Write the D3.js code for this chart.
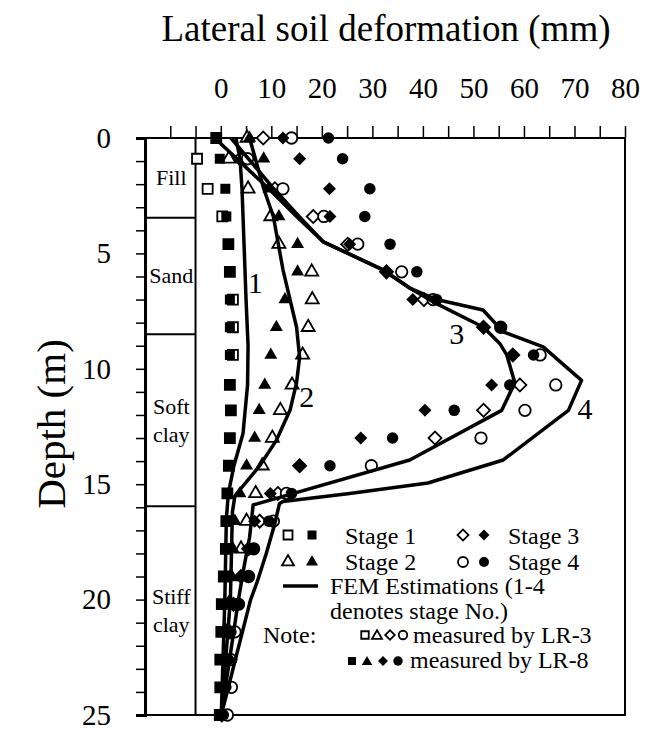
<!DOCTYPE html>
<html><head><meta charset="utf-8">
<script src="https://cdn.jsdelivr.net/npm/d3@7"></script>
<style>
body{margin:0;background:#fff}
text{font-family:"Liberation Serif","Times New Roman",Times,serif;fill:#000}
</style>
</head><body>
<svg id="c" width="645" height="730"></svg>
<script>
// ---------------- DATA ----------------
const depths = [0,0.9,2.2,3.4,4.6,5.8,7.0,8.2,9.4,10.7,11.8,13.0,14.2,15.4,16.6,17.8,19.0,20.2,21.4,22.6,23.8,25.0];

const stage1LR3 = [-0.9,-4.7,-2.6,0.3,1.5,1.8,2.4,2.4,2.4,1.8,2.0,1.8,1.6,1.3,1.1,1.0,0.6,0.2,0.1,-0.1,-0.1,-0.2];
const stage1LR8 = [-0.9,-0.2,0.9,1.1,1.5,1.8,1.8,1.8,1.8,1.8,2.0,1.8,1.6,1.3,1.1,1.0,0.6,0.2,0.1,-0.1,-0.1,-0.2];
const stage2LR3 = [5.2,1.6,5.4,9.9,11.5,18.0,18.1,17.3,16.2,14.1,11.8,10.2,8.2,6.9,5.1,4.0,2.0,1.5,1.0,0.7,0.4,0.2];
const stage2LR8 = [5.7,8.5,9.5,11.5,15.2,15.2,12.7,11.0,9.9,8.7,7.6,6.7,5.1,3.8,2.8,2.4,2.0,1.5,1.0,0.7,0.4,0.2];
const stage3LR3 = [8.4,3.8,10.7,18.3,25.1,32.8,40.2,52.0,57.8,59.2,52.0,42.4,15.6,11.3,7.7,5.5,4.0,2.5,1.8,1.0,0.5,0.2];
const stage3LR8 = [12.3,15.6,21.5,21.6,25.5,32.8,38.0,52.0,57.8,53.6,40.4,27.7,15.6,9.8,6.7,5.5,4.0,2.5,1.8,1.0,0.5,0.2];
const stage4LR3 = [14.0,5.3,12.3,20.4,27.1,35.8,42.0,55.4,63.2,66.3,60.2,51.5,29.8,13.0,10.4,6.5,5.5,3.5,2.8,2.0,2.1,1.3];
const stage4LR8 = [21.3,24.1,29.5,28.5,33.5,38.8,42.7,55.4,61.9,57.2,46.2,34.0,21.6,14.0,9.5,6.5,5.5,3.5,2.0,1.5,1.0,0.5];

// FEM estimations: [depth (m), deformation (mm)]
const fem1 = [[0,3.0],[0.9,3.8],[2.2,4.2],[4.6,4.6],[7.0,5.0],[9.0,5.4],[10.7,5.3],[12.8,4.4],[14.2,2.6],[15.4,1.5],[16.5,1.1],[20,0.8],[25,0.1]];
const fem2 = [[0,5.7],[2.2,8.5],[3.4,10.4],[5.7,12.3],[8.2,15.0],[9.5,15.6],[10.6,15.0],[11.8,13.7],[13.1,11.0],[14.2,7.7],[15.5,2.8],[16.2,2.3],[20,1.9],[25,0.1]];
const fem3 = [[0,2.0],[2.2,10.5],[3.4,15.5],[4.5,20.3],[5.7,32.0],[6.5,37.4],[7.1,42.0],[8.2,52.0],[8.9,55.2],[9.4,56.6],[10.6,58.2],[11.8,55.6],[13.95,37.4],[15.9,6.4],[17.3,5.7],[18.7,4.5],[20,3.5],[25,0.1]];
const fem4 = [[0,-1.2],[2.2,9.5],[3.4,15.0],[4.5,20.3],[5.7,32.0],[6.5,37.4],[7.0,42.7],[7.45,51.9],[8.4,55.9],[9.05,63.8],[10.5,71.4],[11.8,68.8],[13.95,55.9],[14.95,41.0],[15.4,25.5],[15.75,12.3],[15.85,11.6],[16.7,10.7],[18.0,9.0],[19.3,7.1],[20,5.9],[25,0.1]];
const femLabels = ["1","2","3","4"];
const femLabelValue = [6.8,17.0,46.7,72.1];
const femLabelDepth = [6.24,11.2,8.46,11.7];

const soilNames = [["Fill"],["Sand"],["Soft","clay"],["Stiff","clay"]];
const soilBottoms = [3.45,8.5,15.95,25];

const xTicks = [-10,-5,0,5,10,15,20,25,30,35,40,45,50,55,60,65,70,75,80];
const xTickLabels = [0,10,20,30,40,50,60,70,80];
const yTicks = d3.range(0,26,1);
const yTickLabels = [0,5,10,15,20,25];

const titleText = "Lateral soil deformation (mm)";
const yTitleText = "Depth (m)";

// ---------------- CHART ----------------
const svg = d3.select('#c');
svg.append('rect').attr('width',645).attr('height',730).attr('fill','#fff');

const x = d3.scaleLinear().domain([-15,80]).range([145,625]);
const y = d3.scaleLinear().domain([0,25]).range([138,715]);

// frame
svg.append('rect').attr('x',x(-15)).attr('y',y(0)).attr('width',x(80)-x(-15)).attr('height',y(25)-y(0))
  .attr('fill','none').attr('stroke','#000').attr('stroke-width',2);

// soil column
svg.append('line').attr('x1',x(-5)).attr('x2',x(-5)).attr('y1',y(0)).attr('y2',y(25)).attr('stroke','#000').attr('stroke-width',2);
soilBottoms.slice(0,3).forEach(d=>{
  svg.append('line').attr('x1',x(-15)).attr('x2',x(-5)).attr('y1',y(d)).attr('y2',y(d)).attr('stroke','#000').attr('stroke-width',2);
});
soilNames.forEach((names,i)=>{
  const top = i===0?0:soilBottoms[i-1];
  const mid = (y(top)+y(soilBottoms[i]))/2;
  const lh = 28;
  names.forEach((n,j)=>{
    svg.append('text').attr('x',(x(-15)+x(-5))/2+1).attr('y',mid+(j-(names.length-1)/2)*lh)
      .attr('text-anchor','middle').attr('dominant-baseline','central').attr('font-size',22).text(n);
  });
});

// top axis ticks
const gTop = svg.append('g').attr('transform',`translate(0,${y(0)})`);
gTop.call(d3.axisTop(x).tickValues(xTicks).tickSize(12).tickFormat(''));
gTop.select('.domain').remove();
gTop.selectAll('.tick line').attr('stroke','#000').attr('stroke-width',1.5);
const gTopL = svg.append('g').attr('transform',`translate(0,${y(0)})`);
gTopL.call(d3.axisTop(x).tickValues(xTickLabels).tickSize(0).tickPadding(40).tickFormat(d3.format('d')));
gTopL.select('.domain').remove();
gTopL.selectAll('text').attr('font-size',29).attr('font-family','"Liberation Serif","Times New Roman",serif').attr('fill','#000');

// left axis
const gLeft = svg.append('g').attr('transform',`translate(${x(-15)},0)`);
gLeft.call(d3.axisLeft(y).tickValues(yTicks).tickSize(9).tickFormat(''));
gLeft.select('.domain').attr('stroke','#000').attr('stroke-width',3);
gLeft.selectAll('.tick line').attr('stroke','#000').attr('stroke-width',1.5);
const gLeftL = svg.append('g').attr('transform',`translate(${x(-15)},0)`);
gLeftL.call(d3.axisLeft(y).tickValues(yTickLabels).tickSize(0).tickPadding(34).tickFormat(d3.format('d')));
gLeftL.select('.domain').remove();
gLeftL.selectAll('text').attr('font-size',29).attr('font-family','"Liberation Serif","Times New Roman",serif').attr('fill','#000');

// titles
svg.append('text').attr('x',386).attr('y',41).attr('text-anchor','middle').attr('font-size',37).text(titleText);
svg.append('text').attr('transform','translate(65,424) rotate(-90)').attr('text-anchor','middle').attr('font-size',41).text(yTitleText);

// marker generators
function markerPath(shape, s){
  if(shape==='square') return d3.symbol(d3.symbolSquare, s*s)();
  if(shape==='diamond') return d3.symbol(d3.symbolSquare, s*s/2)();
  if(shape==='triangle') return d3.symbol(d3.symbolTriangle, s*s*Math.sqrt(3)/4)();
  return d3.symbol(d3.symbolCircle, Math.PI*s*s/4)();
}
function drawMarker(g, shape, open, cx, cy, s){
  const p = g.append('path').attr('d',markerPath(shape,s))
    .attr('transform',`translate(${cx},${cy})` + (shape==='diamond'?' rotate(45)':''));
  if(open) p.attr('fill','#fff').attr('stroke','#000').attr('stroke-width',1.8);
  else p.attr('fill','#000').attr('stroke','none');
}
const seriesList = [
  {vals:stage1LR3, shape:'square', open:true},
  {vals:stage2LR3, shape:'triangle', open:true},
  {vals:stage3LR3, shape:'diamond', open:true},
  {vals:stage4LR3, shape:'circle', open:true},
  {vals:stage1LR8, shape:'square', open:false},
  {vals:stage2LR8, shape:'triangle', open:false},
  {vals:stage3LR8, shape:'diamond', open:false},
  {vals:stage4LR8, shape:'circle', open:false},
];
const sizes = {square:10, triangle:13, diamond:13, circle:11.5};
const gM = svg.append('g');
seriesList.forEach(s=>{
  s.vals.forEach((v,i)=>{
    if(v==null) return;
    drawMarker(gM, s.shape, s.open, x(v), y(depths[i]), sizes[s.shape]);
  });
});

// FEM lines
const line = d3.line().x(d=>x(d[1])).y(d=>y(d[0]));
[fem1,fem2,fem3,fem4].forEach(f=>{
  svg.append('path').attr('d',line(f)).attr('fill','none').attr('stroke','#000').attr('stroke-width',3.5).attr('stroke-linejoin','round');
});
femLabels.forEach((t,i)=>{
  svg.append('text').attr('x',x(femLabelValue[i])).attr('y',y(femLabelDepth[i])).attr('text-anchor','middle')
    .attr('dominant-baseline','central').attr('font-size',30).text(t);
});

// legend
const gL = svg.append('g');
const fs = 24;
drawMarker(gL,'square',true,288,535,9); drawMarker(gL,'square',false,312,535,9);
gL.append('text').attr('x',345).attr('y',544).attr('font-size',fs).text('Stage 1');
drawMarker(gL,'diamond',true,463,535,11); drawMarker(gL,'diamond',false,484,535,11);
gL.append('text').attr('x',508).attr('y',544).attr('font-size',fs).text('Stage 3');
drawMarker(gL,'triangle',true,288,562,12); drawMarker(gL,'triangle',false,312,562,12);
gL.append('text').attr('x',345).attr('y',570).attr('font-size',fs).text('Stage 2');
drawMarker(gL,'circle',true,463,562,10); drawMarker(gL,'circle',false,484,562,10);
gL.append('text').attr('x',508).attr('y',570).attr('font-size',fs).text('Stage 4');
gL.append('line').attr('x1',283).attr('x2',318).attr('y1',586).attr('y2',586).attr('stroke','#000').attr('stroke-width',3.5);
gL.append('text').attr('x',330).attr('y',594).attr('font-size',fs).text('FEM Estimations (1-4');
gL.append('text').attr('x',330).attr('y',619).attr('font-size',fs).text('denotes stage No.)');
gL.append('text').attr('x',263).attr('y',643).attr('font-size',fs).text('Note:');
drawMarker(gL,'square',true,365,635,7.5); drawMarker(gL,'triangle',true,377,636,10);
drawMarker(gL,'diamond',true,390,635,9.5); drawMarker(gL,'circle',true,403,635,8.5);
gL.append('text').attr('x',413).attr('y',643).attr('font-size',fs).text('measured by LR-3');
drawMarker(gL,'square',false,352,661,8); drawMarker(gL,'triangle',false,367,662,10.5);
drawMarker(gL,'diamond',false,383,661,10); drawMarker(gL,'circle',false,398,661,9.5);
gL.append('text').attr('x',410).attr('y',668).attr('font-size',fs).text('measured by LR-8');
</script>
</body></html>
